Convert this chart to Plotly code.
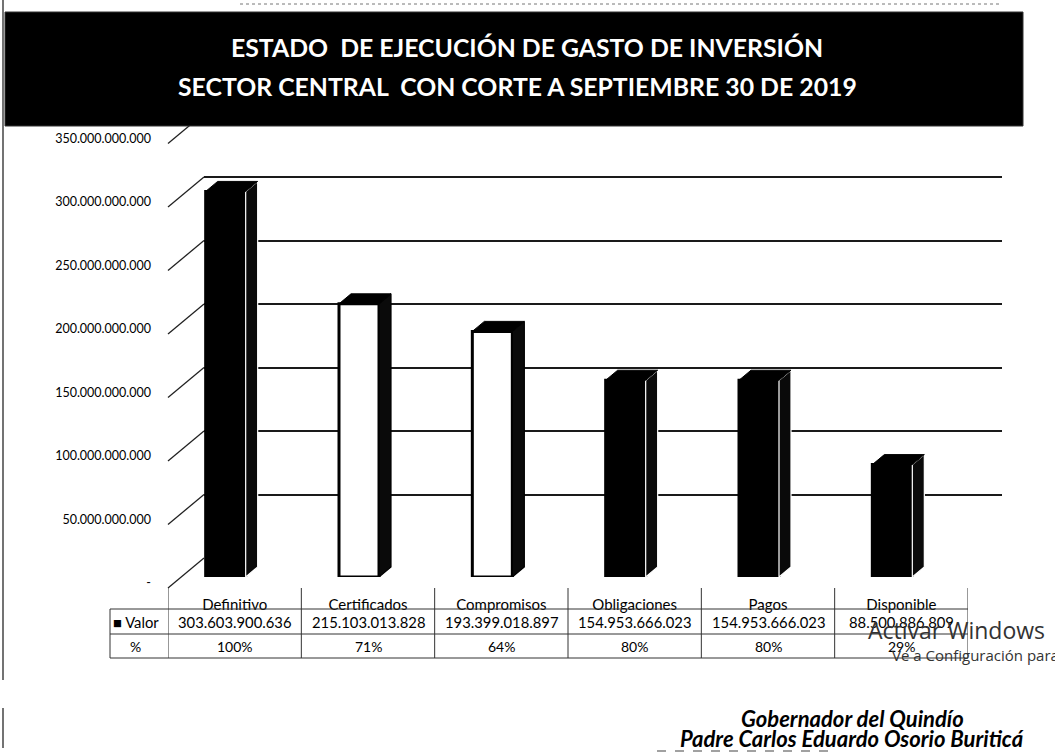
import plotly.graph_objects as go

# ---------------- data ----------------
categories = ["Definitivo", "Certificados", "Compromisos", "Obligaciones", "Pagos", "Disponible"]
valor = [303603900636, 215103013828, 193399018897, 154953666023, 154953666023, 88500886809]
porcentaje = ["100%", "71%", "64%", "80%", "80%", "29%"]
front_fill = ["black", "white", "white", "black", "black", "black"]
y_ticks = [0, 50e9, 100e9, 150e9, 200e9, 250e9, 300e9, 350e9]

title_lines = ["ESTADO  DE EJECUCIÓN DE GASTO DE INVERSIÓN",
               "SECTOR CENTRAL  CON CORTE A SEPTIEMBRE 30 DE 2019"]
footer_lines = ["Gobernador del Quindío", "Padre Carlos Eduardo Osorio Buriticá"]

# ---------------- geometry helpers ----------------
W, H = 1055, 752
def px(x):
    return x / W
def py(y):
    return 1 - y / H

YMAX = 350e9
FONT = "Lato, 'Open Sans', sans-serif"

def fmt(v):
    return f"{int(round(v)):,}".replace(",", ".")

tick_text = ["-" if t == 0 else fmt(t) for t in y_ticks]

bar_y0_px, bar_y1_px = 577, 132.5
bar_x0_px, bar_x1_px = 168, 968
back_y0_px, back_y1_px = 558, 113.5
back_x0_px, back_x1_px = 204, 1002

n = len(categories)
xs = list(range(n))
unit_px = (bar_x1_px - bar_x0_px) / n
val_per_px = YMAX / (bar_y0_px - bar_y1_px)
back_px_per_val = (back_y0_px - back_y1_px) / YMAX
BAR_W = 0.30
BAR_SHIFT = -0.0675
dx = 12 / unit_px
dy = 10 * val_per_px

fig = go.Figure()

fig.add_trace(go.Scatter(x=[0], y=[0], mode="markers", marker=dict(opacity=0),
                         hoverinfo="skip", showlegend=False, xaxis="x", yaxis="y"))

fig.add_trace(go.Bar(
    x=xs, y=valor, width=BAR_W, offset=BAR_SHIFT - BAR_W / 2,
    marker=dict(color=front_fill, line=dict(color="black", width=3)),
    xaxis="x2", yaxis="y2", showlegend=False, hoverinfo="skip"))

for i, v in enumerate(valor):
    xl = i + BAR_SHIFT - BAR_W / 2
    xr = xl + BAR_W
    edge = "white" if front_fill[i] == "black" else "black"
    fig.add_trace(go.Scatter(
        x=[xr, xr + dx, xr + dx, xr, xr], y=[0, dy, v + dy, v, 0],
        fill="toself", fillcolor="#0a0a0a", mode="lines",
        line=dict(color=edge, width=1.2), xaxis="x2", yaxis="y2",
        showlegend=False, hoverinfo="skip"))
    fig.add_trace(go.Scatter(
        x=[xl, xl + dx, xr + dx, xr, xl], y=[v, v + dy, v + dy, v, v],
        fill="toself", fillcolor="black", mode="lines",
        line=dict(color="black", width=1), xaxis="x2", yaxis="y2",
        showlegend=False, hoverinfo="skip"))

shapes = []
annotations = []

# diagonal wall edges from the front labels to the back grid lines
for t in y_ticks:
    yb = back_y0_px - t * back_px_per_val
    shapes.append(dict(type="line", xref="paper", yref="paper",
                       x0=px(bar_x0_px), y0=py(yb + 30), x1=px(back_x0_px), y1=py(yb),
                       line=dict(color="#222", width=1.3)))

# title banner
shapes.append(dict(type="rect", xref="paper", yref="paper", layer="above",
                   x0=px(5), x1=px(1023), y0=py(126), y1=py(12),
                   fillcolor="black", line=dict(color="#333", width=1)))
for k, (line, yy) in enumerate(zip(title_lines, [47, 86])):
    annotations.append(dict(text=f"<b>{line}</b>", x=px(527 if k == 0 else 517), y=py(yy),
                            xref="paper", yref="paper", showarrow=False,
                            font=dict(family=FONT, size=24.8, color="white"),
                            xanchor="center", yanchor="middle"))

# data table
tbl_top, tbl_mid, tbl_bot = 609, 634, 658
for h in [tbl_top, tbl_mid, tbl_bot]:
    shapes.append(dict(type="line", xref="paper", yref="paper",
                       x0=px(110), x1=px(968), y0=py(h), y1=py(h),
                       line=dict(color="#333", width=1)))
shapes.append(dict(type="line", xref="paper", yref="paper",
                   x0=px(110), x1=px(110), y0=py(tbl_top), y1=py(tbl_bot),
                   line=dict(color="#333", width=1)))
for i in range(n + 1):
    shapes.append(dict(type="line", xref="x2", yref="paper",
                       x0=i - 0.5, x1=i - 0.5, y0=py(588), y1=py(tbl_bot),
                       line=dict(color="#333", width=1)))
for i, v in enumerate(valor):
    annotations.append(dict(text=fmt(v), x=i, y=py(622), xref="x2", yref="paper",
                            showarrow=False, font=dict(family=FONT, size=14.8, color="black"),
                            xanchor="center", yanchor="middle"))
    annotations.append(dict(text=porcentaje[i], x=i, y=py(646), xref="x2", yref="paper",
                            showarrow=False, font=dict(family=FONT, size=14, color="black"),
                            xanchor="center", yanchor="middle"))
annotations.append(dict(text="■ Valor", x=px(111), y=py(622), xref="paper", yref="paper",
                        showarrow=False, font=dict(family=FONT, size=14.8, color="black"),
                        xanchor="left", yanchor="middle"))
annotations.append(dict(text="%", x=px(135), y=py(646), xref="paper", yref="paper",
                        showarrow=False, font=dict(family=FONT, size=14, color="black"),
                        xanchor="center", yanchor="middle"))

# Windows watermark
annotations.append(dict(text="Activar Windows", x=px(866), y=py(630), xref="paper", yref="paper",
                        showarrow=False, font=dict(family="'Open Sans', sans-serif", size=23, color="#333"),
                        xanchor="left", yanchor="middle"))
annotations.append(dict(text="Ve a Configuración para activar Windows.", x=px(890), y=py(655),
                        xref="paper", yref="paper", showarrow=False,
                        font=dict(family="'Open Sans', sans-serif", size=15, color="#333"),
                        xanchor="left", yanchor="middle"))

# footer
for line, yy in zip(footer_lines, [718, 738]):
    annotations.append(dict(text=f"<b><i>{line}</i></b>", x=px(852), y=py(yy),
                            xref="paper", yref="paper", showarrow=False,
                            font=dict(family=FONT, size=22, color="black"),
                            xanchor="center", yanchor="middle"))

# scan borders
shapes.append(dict(type="line", xref="paper", yref="paper", x0=px(3), x1=px(3),
                   y0=py(0), y1=py(680), line=dict(color="#444", width=1.5)))
shapes.append(dict(type="line", xref="paper", yref="paper", x0=px(3), x1=px(3),
                   y0=py(708), y1=py(748), line=dict(color="#444", width=1.5)))
shapes.append(dict(type="line", xref="paper", yref="paper", x0=px(657), x1=px(830),
                   y0=py(751), y1=py(751), line=dict(color="#444", width=1.2, dash="dash")))
shapes.append(dict(type="line", xref="paper", yref="paper", x0=px(240), x1=px(1000),
                   y0=py(4), y1=py(4), line=dict(color="#777", width=1, dash="dot")))

fig.update_layout(
    width=W, height=H,
    margin=dict(l=0, r=0, t=0, b=0, autoexpand=False),
    paper_bgcolor="white", plot_bgcolor="rgba(0,0,0,0)",
    showlegend=False,
    shapes=shapes, annotations=annotations,
    xaxis=dict(domain=[px(back_x0_px), px(back_x1_px)], range=[-0.5, n - 0.5],
               showgrid=False, showticklabels=False, zeroline=False, anchor="y"),
    yaxis=dict(domain=[py(back_y0_px), py(back_y1_px)], range=[0, YMAX],
               tickvals=y_ticks, showgrid=True, gridcolor="#1a1a1a", gridwidth=1.5,
               showticklabels=False, zeroline=False, anchor="x"),
    xaxis2=dict(domain=[px(bar_x0_px), px(bar_x1_px)], range=[-0.5, n - 0.5],
                tickvals=xs, ticktext=categories, showgrid=False, zeroline=False,
                ticks="", ticklabelstandoff=17, anchor="y2",
                tickfont=dict(family=FONT, size=15, color="black")),
    yaxis2=dict(domain=[py(bar_y0_px), py(bar_y1_px)], range=[0, YMAX],
                tickvals=y_ticks, ticktext=tick_text, showgrid=False, zeroline=False,
                ticks="", ticklabelstandoff=16, ticklabelshift=6, anchor="x2",
                tickfont=dict(family=FONT, size=12.5, color="black")),
)

fig.write_html("out.html", config={"displayModeBar": False},
               post_script="document.body.style.margin='0';")
